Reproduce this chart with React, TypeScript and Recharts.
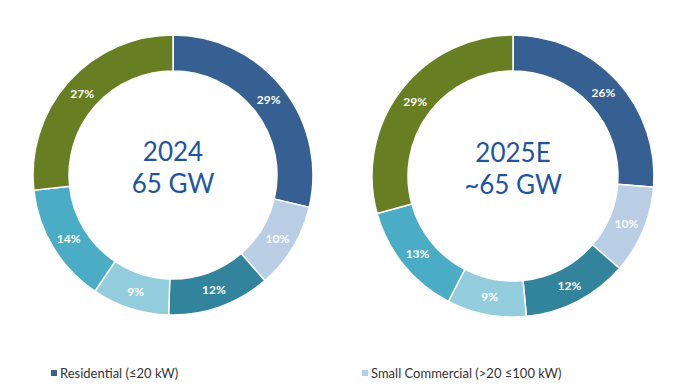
import { PieChart, Pie, Cell, Legend } from "recharts";

const segments = [
  "Residential (≤20 kW)",
  "Small Commercial (>20 ≤100 kW)",
  "Large Commercial",
  "Community Solar",
  "Utility (<100 MW)",
  "Utility (≥100 MW)",
];
const colors = ["#376092", "#B9CDE5", "#31849B", "#93CDDD", "#4BACC6", "#677F22"];
const shares2024 = [29, 10, 12, 9, 14, 27];
const shares2025 = [26, 10, 12, 9, 13, 29];
const centerTitles = [
  ["2024", "65 GW"],
  ["2025E", "~65 GW"],
];

const data2024 = segments.map((name, i) => ({ name, value: shares2024[i] }));
const data2025 = segments.map((name, i) => ({ name, value: shares2025[i] }));

const RAD = Math.PI / 180;
const font = "Lato, 'Open Sans', sans-serif";
const centers = [
  { x: 173, y: 175 },
  { x: 513, y: 176 },
];

const renderLabel = (props: any) => {
  const { cx, cy, midAngle, innerRadius, outerRadius, value } = props;
  const r = (innerRadius + outerRadius) / 2;
  const x = cx + r * Math.cos(-midAngle * RAD);
  const y = cy + r * Math.sin(-midAngle * RAD);
  return (
    <text
      x={x}
      y={y}
      fill="#ffffff"
      fontSize={12}
      fontWeight={700}
      fontFamily={font}
      textAnchor="middle"
      dominantBaseline="central"
    >
      {value}%
    </text>
  );
};

// only the first two legend entries are visible in the source image
const renderLegend = () => (
  <div style={{ position: "relative", width: 688, height: 20, fontFamily: font, fontSize: 13, color: "#333" }}>
    {[0, 1].map((i) => (
      <div
        key={i}
        style={{
          position: "absolute",
          left: i === 0 ? 51 : 362,
          top: 0,
          display: "flex",
          alignItems: "center",
          whiteSpace: "nowrap",
        }}
      >
        <span style={{ display: "inline-block", width: 6, height: 6, background: colors[i], marginRight: 3 }} />
        {segments[i]}
      </div>
    ))}
  </div>
);

export default function App() {
  return (
    <div style={{ position: "absolute", left: 0, top: 0, width: 688, height: 387, background: "#fff" }}>
      <PieChart width={688} height={387} margin={{ top: 0, right: 0, bottom: 0, left: 0 }}>
        <Pie
          data={data2024}
          dataKey="value"
          cx={centers[0].x}
          cy={centers[0].y}
          innerRadius={104}
          outerRadius={140}
          startAngle={90}
          endAngle={-270}
          stroke="#ffffff"
          strokeWidth={1.5}
          label={renderLabel}
          labelLine={false}
          isAnimationActive={false}
        >
          {data2024.map((d, i) => (
            <Cell key={d.name} fill={colors[i]} />
          ))}
        </Pie>
        <Pie
          data={data2025}
          dataKey="value"
          cx={centers[1].x}
          cy={centers[1].y}
          innerRadius={105}
          outerRadius={141}
          startAngle={90}
          endAngle={-270}
          stroke="#ffffff"
          strokeWidth={1.5}
          label={renderLabel}
          labelLine={false}
          isAnimationActive={false}
        >
          {data2025.map((d, i) => (
            <Cell key={d.name} fill={colors[i]} />
          ))}
        </Pie>
        <Legend
          content={renderLegend}
          wrapperStyle={{ position: "absolute", left: 0, top: 365, width: 688 }}
        />
      </PieChart>
      {centerTitles.map((lines, i) => (
        <div
          key={lines[0]}
          style={{
            position: "absolute",
            left: centers[i].x - 80,
            top: centers[i].y - 40,
            width: 160,
            textAlign: "center",
            fontFamily: font,
            fontSize: 26,
            lineHeight: "32px",
            color: "#1D55A0",
            pointerEvents: "none",
          }}
        >
          <div>{lines[0]}</div>
          <div>{lines[1]}</div>
        </div>
      ))}
    </div>
  );
}
